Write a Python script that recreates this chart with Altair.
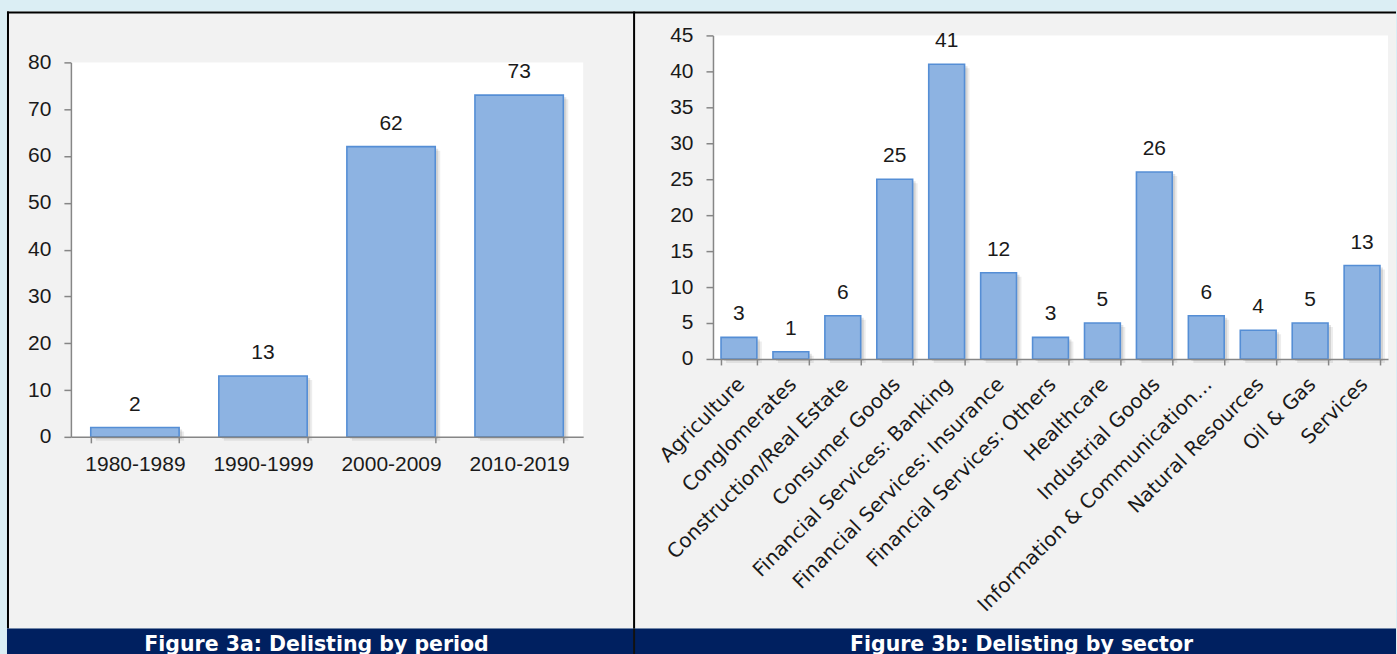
import altair as alt
import pandas as pd

PERIODS = ["1980-1989", "1990-1999", "2000-2009", "2010-2019"]
PERIOD_COUNTS = [2, 13, 62, 73]

SECTORS = [
    "Agriculture", "Conglomerates", "Construction/Real Estate", "Consumer Goods",
    "Financial Services: Banking", "Financial Services: Insurance",
    "Financial Services: Others", "Healthcare", "Industrial Goods",
    "Information & Communication…", "Natural Resources", "Oil & Gas", "Services",
]
SECTOR_COUNTS = [3, 1, 6, 25, 41, 12, 3, 5, 26, 6, 4, 5, 13]

CAPTIONS = ["Figure 3a: Delisting by period", "Figure 3b: Delisting by sector"]
Y_TICKS_A = list(range(0, 81, 10))
Y_TICKS_B = list(range(0, 46, 5))

FONT = "DejaVu Sans"
NUM_FONT = "Liberation Sans"
BAR_FILL = "#8DB3E2"
BAR_STROKE = "#558ED5"
AXIS_COL = "#868686"
TEXT_COL = "#1a1a1a"
PANEL_BG = "#F2F2F2"
OUTER_BG = "#DBEEF4"
NAVY = "#002060"

PANEL_H = 618
CAP_H = 26
W_A = 627
W_B = 764


def rule(x=None, x2=None, y=None, y2=None, color="black", w=2):
    one = pd.DataFrame({"k": [0]})
    enc = {}
    if x is not None:
        enc["x"] = alt.value(x)
    if x2 is not None:
        enc["x2"] = alt.value(x2)
    if y is not None:
        enc["y"] = alt.value(y)
    if y2 is not None:
        enc["y2"] = alt.value(y2)
    return alt.Chart(one).mark_rule(color=color, strokeWidth=w).encode(**enc)


def panel(cats, vals, width, xr, yr, ymax, yticks, rotated, borders):
    df = pd.DataFrame({"cat": cats, "n": vals})
    one = pd.DataFrame({"k": [0]})
    xscale = alt.Scale(range=xr, paddingInner=0.31, paddingOuter=0.155)
    yscale = alt.Scale(domain=[0, ymax], range=yr, nice=False)
    if rotated:
        lab = dict(labelFont=FONT, labelFontSize=20, labelAngle=-45, labelAlign="right",
                   labelBaseline="middle", labelPadding=16, labelOffset=2)
    else:
        lab = dict(labelFont=NUM_FONT, labelFontSize=21, labelAngle=0, labelAlign="center",
                   labelBaseline="top", labelPadding=11)
    x_axis = alt.Axis(
        title=None, orient="bottom", offset=-(PANEL_H - yr[0]), tickBand="extent",
        domainColor=AXIS_COL, domainWidth=1.5, tickColor=AXIS_COL, tickWidth=1.5,
        tickSize=6, labelColor=TEXT_COL, labelLimit=500, zindex=2, **lab,
    )
    y_axis = alt.Axis(
        title=None, orient="left", offset=-xr[0], values=yticks, grid=False,
        domainColor=AXIS_COL, domainWidth=1.5, tickColor=AXIS_COL, tickWidth=1.5,
        tickSize=7, labelFontSize=21, labelColor=TEXT_COL, labelFont=NUM_FONT,
        labelPadding=13, zindex=2,
    )
    plot_bg = alt.Chart(one).mark_rect(color="white").encode(
        x=alt.value(xr[0]), x2=alt.value(xr[1]), y=alt.value(yr[1]), y2=alt.value(yr[0])
    )
    base = alt.Chart(df).encode(
        x=alt.X("cat:N", sort=cats, scale=xscale, axis=x_axis),
        y=alt.Y("n:Q", scale=yscale, axis=y_axis),
    )
    shadow1 = base.mark_bar(color="#000000", opacity=0.07, xOffset=5, yOffset=4, y2Offset=0)
    shadow2 = base.mark_bar(color="#000000", opacity=0.11, xOffset=3, yOffset=2, y2Offset=0)
    bars = base.mark_bar(color=BAR_FILL, stroke=BAR_STROKE, strokeWidth=1.6)
    labels = base.mark_text(dy=-23, baseline="middle", align="center", fontSize=21,
                            font=NUM_FONT, color=TEXT_COL).encode(text="n:Q")
    return alt.layer(plot_bg, shadow1, shadow2, bars, labels, *borders).properties(
        width=width, height=PANEL_H, view=alt.ViewBackground(fill=PANEL_BG, stroke=None)
    )


left = panel(PERIODS, PERIOD_COUNTS, W_A, [64, 577], [426, 51], 80, Y_TICKS_A, False,
             [rule(x=1, y=0, y2=PANEL_H), rule(x=0, x2=W_A, y=1)])

right = panel(SECTORS, SECTOR_COUNTS, W_B, [80, 756], [348, 24], 45, Y_TICKS_B, True,
              [rule(x=0, x2=W_B, y=1), rule(x=1, y=0, y2=PANEL_H)])


def caption(text, width, cx, divider):
    df = pd.DataFrame({"t": [text]})
    t = alt.Chart(df).mark_text(
        font=FONT, fontSize=20.5, fontWeight="bold", color="white", align="center",
        baseline="alphabetic",
    ).encode(x=alt.value(cx), y=alt.value(22), text="t:N")
    layers = [t]
    if divider:
        layers.append(rule(x=1, y=0, y2=CAP_H, color="#111111", w=2))
    return alt.layer(*layers).properties(
        width=width, height=CAP_H, view=alt.ViewBackground(fill=NAVY, stroke=None)
    )


chart = alt.concat(
    left, right,
    caption(CAPTIONS[0], W_A, 310, False), caption(CAPTIONS[1], W_B, 389, True),
    columns=2, spacing=0, bounds="flush",
).properties(
    background=OUTER_BG,
    padding={"left": 6, "top": 10, "right": 0, "bottom": 0},
).configure_view(stroke=None).configure(font=FONT)

chart.save("out.html", embed_options={"renderer": "svg", "actions": False})
